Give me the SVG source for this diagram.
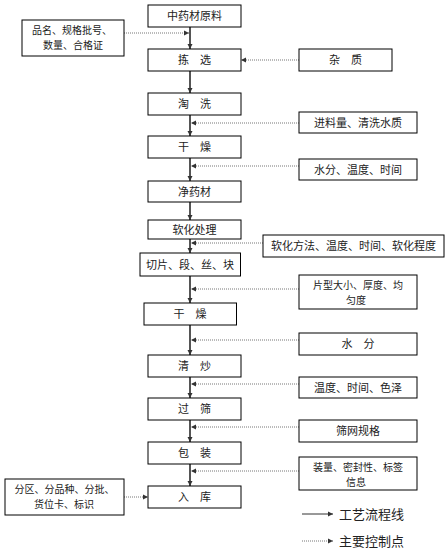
<svg xmlns="http://www.w3.org/2000/svg" width="448" height="555" viewBox="0 0 448 555">
<defs>
<marker id="ah" markerWidth="6" markerHeight="6" refX="5" refY="3" orient="auto" markerUnits="userSpaceOnUse">
<path d="M0,0.5 L5,3 L0,5.5 Z" fill="#333"/>
</marker>
<marker id="ahd" markerWidth="6" markerHeight="6" refX="5" refY="3" orient="auto" markerUnits="userSpaceOnUse">
<path d="M0,0.5 L5,3 L0,5.5 Z" fill="#333"/>
</marker>
</defs>
<style>
rect{fill:#fff;stroke:#000;stroke-width:1}
text{font-family:"Noto Sans CJK SC","Noto Sans",sans-serif;font-size:11px;fill:#222;text-anchor:middle}
.two{font-size:10px}
.flow{stroke:#555;stroke-width:2;fill:none;marker-end:url(#ah)}
.ctl{stroke:#777;stroke-width:1;stroke-dasharray:1,1;fill:none;marker-end:url(#ahd)}
.leg{font-size:13px;text-anchor:start}
</style>
<rect x="0" y="0" width="448" height="555" style="fill:#fff;stroke:none"/>
<g id="connectors">
<line class="flow" x1="190" y1="27" x2="190" y2="49"/>
<line class="flow" x1="190" y1="71" x2="190" y2="93"/>
<line class="flow" x1="190" y1="115" x2="190" y2="136"/>
<line class="flow" x1="190" y1="158" x2="190" y2="181"/>
<line class="flow" x1="190" y1="202" x2="190" y2="220"/>
<line class="flow" x1="190" y1="239" x2="190" y2="253"/>
<line class="flow" x1="190" y1="276" x2="190" y2="303"/>
<line class="flow" x1="190" y1="325" x2="190" y2="355"/>
<line class="flow" x1="190" y1="377" x2="190" y2="398"/>
<line class="flow" x1="190" y1="420" x2="190" y2="442"/>
<line class="flow" x1="190" y1="464" x2="190" y2="486"/>
<line class="ctl" x1="124" y1="33" x2="189" y2="33"/>
<line class="ctl" x1="299" y1="60" x2="241" y2="60"/>
<line class="ctl" x1="299" y1="123" x2="191" y2="123"/>
<line class="ctl" x1="299" y1="166" x2="191" y2="166"/>
<line class="ctl" x1="263" y1="243" x2="191" y2="243"/>
<line class="ctl" x1="299" y1="289" x2="191" y2="289"/>
<line class="ctl" x1="299" y1="340" x2="191" y2="340"/>
<line class="ctl" x1="299" y1="384" x2="191" y2="384"/>
<line class="ctl" x1="299" y1="427" x2="191" y2="427"/>
<line class="ctl" x1="299" y1="471" x2="191" y2="471"/>
<line class="ctl" x1="124" y1="497" x2="148" y2="497"/>
</g>
<g id="n1"><rect x="148" y="5" width="93" height="22"/><text x="194.5" y="20">中药材原料</text></g>
<g id="n2"><rect x="148" y="49" width="93" height="22"/><text x="194.5" y="64">拣　选</text></g>
<g id="n3"><rect x="148" y="93" width="93" height="22"/><text x="194.5" y="108">淘　洗</text></g>
<g id="n4"><rect x="148" y="136" width="93" height="22"/><text x="194.5" y="151">干　燥</text></g>
<g id="n5"><rect x="148" y="181" width="93" height="21"/><text x="194.5" y="195.5">净药材</text></g>
<g id="n6"><rect x="148" y="220" width="93" height="19"/><text x="194.5" y="233.5">软化处理</text></g>
<g id="n7"><rect x="140" y="253" width="100.5" height="23"/><text x="190" y="268.5">切片、段、丝、块</text></g>
<g id="n8"><rect x="144" y="303" width="92.5" height="22"/><text x="190" y="318">干　燥</text></g>
<g id="n9"><rect x="148" y="355" width="93" height="22"/><text x="194.5" y="370">清　炒</text></g>
<g id="n10"><rect x="148" y="398" width="93" height="22"/><text x="194.5" y="413">过　筛</text></g>
<g id="n11"><rect x="148" y="442" width="93" height="22"/><text x="194.5" y="457">包　装</text></g>
<g id="n12"><rect x="148" y="486" width="93" height="22"/><text x="194.5" y="501">入　库</text></g>
<g id="c0"><rect x="22" y="20" width="102" height="36"/><text class="two" x="72" y="34">品名、规格批号、</text><text class="two" x="73" y="49">数量、合格证</text></g>
<g id="c1"><rect x="299" y="49" width="93" height="22"/><text x="345.5" y="64">杂　质</text></g>
<g id="c2"><rect x="299" y="112" width="118" height="21"/><text x="358" y="126.5">进料量、清洗水质</text></g>
<g id="c3"><rect x="299" y="159" width="118" height="21"/><text x="358" y="173.5">水分、温度、时间</text></g>
<g id="c4"><rect x="263" y="235" width="181" height="22"/><text x="353.5" y="250">软化方法、温度、时间、软化程度</text></g>
<g id="c5"><rect x="299" y="275" width="118" height="34"/><text class="two" x="358" y="289">片型大小、厚度、均</text><text class="two" x="356" y="304">匀度</text></g>
<g id="c6"><rect x="299" y="333" width="118" height="22"/><text x="358" y="348">水　分</text></g>
<g id="c7"><rect x="299" y="377" width="118" height="21"/><text x="358" y="391.5">温度、时间、色泽</text></g>
<g id="c8"><rect x="299" y="420" width="118" height="22"/><text x="358" y="435">筛网规格</text></g>
<g id="c9"><rect x="299" y="457" width="118" height="33"/><text class="two" x="358" y="471">装量、密封性、标签</text><text class="two" x="356" y="486">信息</text></g>
<g id="c10"><rect x="5" y="479" width="119" height="36"/><text class="two" x="64.5" y="493">分区、分品种、分批、</text><text class="two" x="64" y="508">货位卡、标识</text></g>
<g id="legend">
<line x1="302" y1="514" x2="333" y2="514" style="stroke:#333;stroke-width:1;marker-end:url(#ah)"/>
<text class="leg" x="339" y="519">工艺流程线</text>
<line class="ctl" x1="302" y1="541" x2="333" y2="541"/>
<text class="leg" x="339" y="546">主要控制点</text>
</g>
</svg>
